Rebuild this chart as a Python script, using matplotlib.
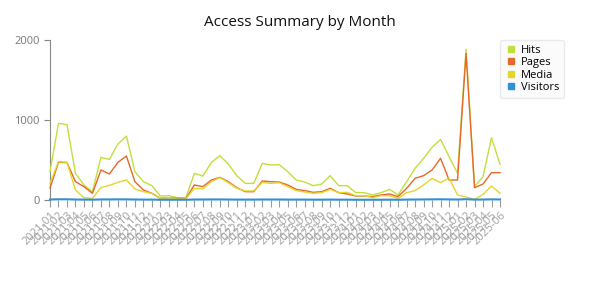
import matplotlib.pyplot as plt
from matplotlib.lines import Line2D

plt.rcParams['font.family'] = ['Open Sans', 'DejaVu Sans']

# months 2021-01 .. 2025-06
months = []
for y in range(2021, 2026):
    for m in range(1, 13):
        if y == 2025 and m > 6:
            break
        months.append(f"{y}-{m:02d}")

hits = [354, 958, 942, 333, 187, 104, 533, 508, 700, 800,
        354, 229, 179, 50, 54, 29, 29, 333, 300, 467,
        554, 450, 304, 208, 208, 458, 437, 442, 354, 250,
        225, 179, 200, 304, 179, 179, 92, 92, 63, 92,
        133, 63, 229, 396, 521, 658, 758, 542, 333, 1883,
        167, 292, 779, 446]
pages = [150, 471, 467, 229, 167, 83, 375, 325, 471, 550,
         229, 125, 83, 21, 29, 21, 17, 188, 167, 250,
         283, 229, 154, 104, 104, 238, 229, 225, 188, 133,
         117, 96, 104, 146, 92, 75, 50, 50, 42, 63,
         75, 42, 146, 271, 304, 375, 521, 250, 250, 1833,
         154, 200, 342, 342]
media = [208, 479, 471, 125, 29, 21, 154, 183, 221, 250,
         138, 104, 83, 21, 29, 13, 13, 146, 138, 229,
         279, 217, 146, 113, 113, 221, 208, 217, 167, 117,
         100, 83, 92, 133, 92, 96, 54, 54, 29, 54,
         54, 21, 92, 117, 188, 271, 217, 275, 63, 38,
         8, 70, 175, 83]
visitors = [6, 9, 9, 6, 5, 4, 7, 7, 8, 8,
            6, 5, 5, 3, 3, 3, 3, 6, 6, 7,
            7, 6, 5, 5, 5, 6, 6, 6, 5, 5,
            5, 4, 4, 5, 4, 4, 3, 3, 3, 3,
            4, 3, 5, 6, 7, 8, 9, 7, 6, 10,
            5, 6, 8, 7]

series = [("Hits", hits, "#c2df3c"),
          ("Pages", pages, "#e8672c"),
          ("Media", media, "#e3d62c"),
          ("Visitors", visitors, "#2f8fd8")]

fig = plt.figure(figsize=(6, 3), dpi=100)
ax = fig.add_axes([50/600, 1 - 200/300, 450/600, 160/300])

x = list(range(len(months)))
for name, vals, col in series:
    lw = 1.5 if name == "Visitors" else 1.0
    ax.plot(x, vals, color=col, lw=lw, clip_on=False, zorder=3)

ax.set_xlim(0, len(months) - 1)
ax.set_ylim(0, 2000)
ax.set_yticks([0, 1000, 2000])
ax.set_xticks(x)
ax.set_xticklabels(months, rotation=45, ha='right', va='top',
                   rotation_mode='anchor', fontsize=8, color='#a0a0a0')
ax.tick_params(axis='y', labelsize=8, labelcolor='#777777', color='#888888',
               length=4, width=0.8)
ax.tick_params(axis='x', color='#999999', length=5, width=0.8, pad=2)
for s in ['top', 'right']:
    ax.spines[s].set_visible(False)
ax.spines['left'].set_color('#888888')
ax.spines['bottom'].set_visible(False)

fig.suptitle("Access Summary by Month", fontsize=11, y=0.95, color='#111111')

handles = [Line2D([], [], marker='s', ls='none', color=c, markersize=5)
           for _, _, c in series]
leg = fig.legend(handles, [n for n, _, _ in series],
                 loc='upper left', bbox_to_anchor=(500/600, 1 - 40/300),
                 borderaxespad=0, fontsize=8, frameon=True, fancybox=True,
                 handletextpad=0.4, labelspacing=0.12, borderpad=0.45,
                 handlelength=1.0)
leg.get_frame().set_facecolor('#fafafa')
leg.get_frame().set_edgecolor('#e6e6e6')

fig.savefig("out.png", dpi=100)
